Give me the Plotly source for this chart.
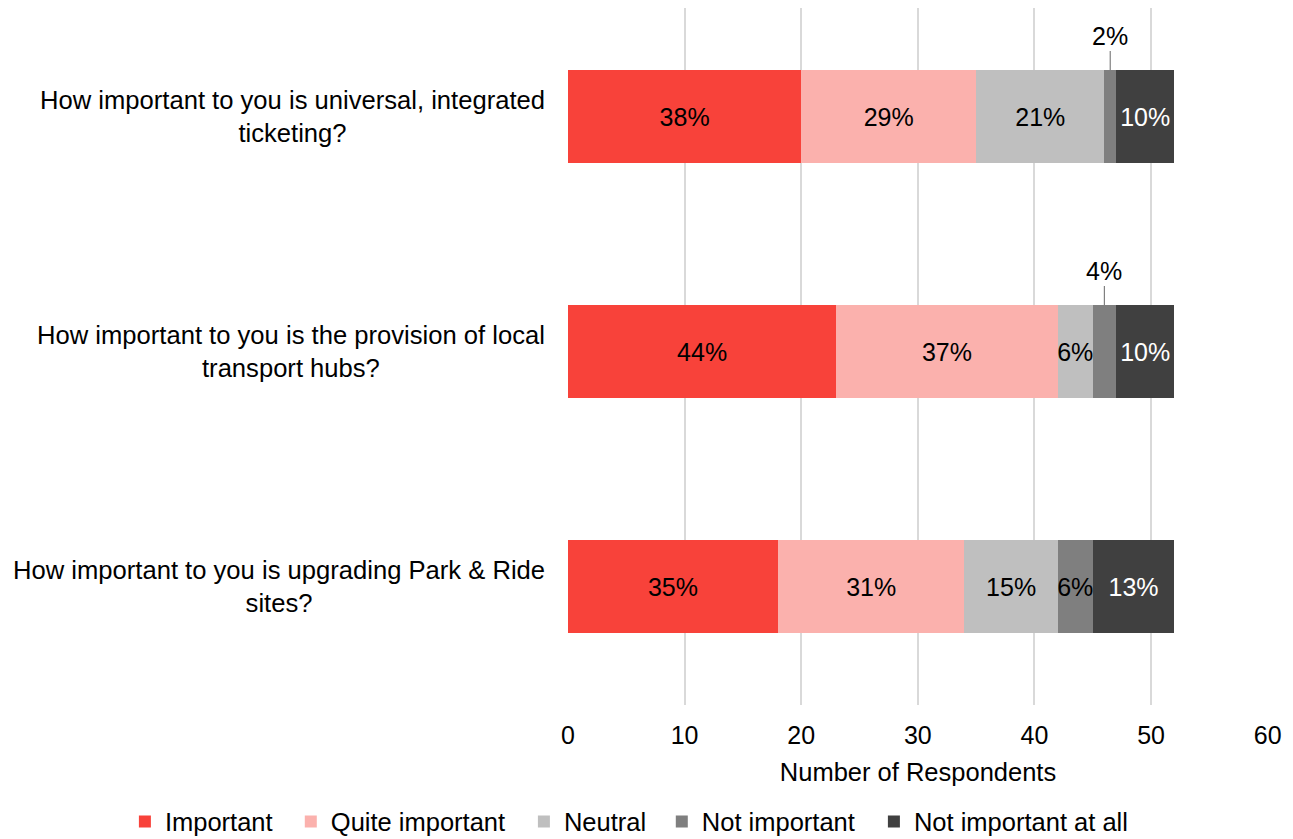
import plotly.graph_objects as go

questions = [
    "How important to you is universal, integrated<br>ticketing?",
    "How important to you is the provision of local<br>transport hubs?",
    "How important to you is upgrading Park & Ride<br>sites?",
]
cats = ["Q1", "Q2", "Q3"]
levels = ["Important", "Quite important", "Neutral", "Not important", "Not important at all"]
counts = {
    "Important": [20, 23, 18],
    "Quite important": [15, 19, 16],
    "Neutral": [11, 3, 8],
    "Not important": [1, 2, 3],
    "Not important at all": [5, 5, 7],
}
pct_labels = {
    "Important": ["38%", "44%", "35%"],
    "Quite important": ["29%", "37%", "31%"],
    "Neutral": ["21%", "6%", "15%"],
    "Not important": ["", "", "6%"],
    "Not important at all": ["10%", "10%", "13%"],
}
# labels drawn outside with a leader line (segment too small)
callouts = [("Q1", "Not important", "2%"), ("Q2", "Not important", "4%")]

colors = {
    "Important": "#F8423A",
    "Quite important": "#FBB1AD",
    "Neutral": "#BFBFBF",
    "Not important": "#7F7F7F",
    "Not important at all": "#404040",
}
txt_colors = {
    "Important": "black",
    "Quite important": "black",
    "Neutral": "black",
    "Not important": "black",
    "Not important at all": "white",
}

FONT = "Liberation Sans, Arial, sans-serif"

# one legend per entry so the spacing matches the original (paper x of each)
legend_ids = ["legend", "legend2", "legend3", "legend4", "legend5"]
legend_x = [-0.633, -0.396, -0.063, 0.134, 0.437]

fig = go.Figure()
for lvl, lid in zip(levels, legend_ids):
    fig.add_trace(go.Bar(
        y=cats, x=counts[lvl], name=lvl, orientation="h", legend=lid,
        marker=dict(color=colors[lvl], line=dict(width=0)),
        text=pct_labels[lvl], textposition="inside", insidetextanchor="middle",
        textangle=0, constraintext="none",
        textfont=dict(size=25, color=txt_colors[lvl], family=FONT),
    ))

# question labels, centred multi-line
for c, q in zip(cats, questions):
    fig.add_annotation(x=0, xref="paper", y=c, yref="y", text=q, showarrow=False,
                       xanchor="right", xshift=-21, align="center",
                       font=dict(size=25.6, color="black", family=FONT))

# leader-line callouts
for c, lvl, t in callouts:
    i = cats.index(c)
    start = sum(counts[l][i] for l in levels[:levels.index(lvl)])
    fig.add_annotation(x=start + counts[lvl][i] / 2, y=c, yref="y", text=t,
                       showarrow=True, arrowhead=0, arrowwidth=1.2, arrowcolor="#808080",
                       ax=0, ay=-81, standoff=46, startstandoff=0,
                       font=dict(size=25, color="black", family=FONT))

legends = {}
for lid, lx in zip(legend_ids, legend_x):
    legends[lid] = dict(orientation="h", x=lx, xanchor="left", y=-0.134, yanchor="top",
                        font=dict(size=25.5, family=FONT), itemwidth=30,
                        bgcolor="rgba(0,0,0,0)")

fig.update_layout(
    barmode="stack",
    bargap=0.604,
    width=1285, height=831,
    margin=dict(l=560, r=25, t=0, b=134, autoexpand=False),
    plot_bgcolor="white", paper_bgcolor="white",
    font=dict(family=FONT, size=25, color="black"),
    showlegend=True,
    **legends,
)
fig.update_xaxes(range=[0, 60.03], dtick=10, showgrid=True, gridcolor="#D9D9D9", gridwidth=1.5,
                 zeroline=False, showline=False, ticks="", automargin=False,
                 tickfont=dict(size=25), ticklabelstandoff=13,
                 title=dict(text="Number of Respondents", font=dict(size=25.5), standoff=15))
fig.update_yaxes(range=[2.504, -0.462], showticklabels=False, showgrid=False, zeroline=False,
                 automargin=False)

fig.write_html("out.html")
